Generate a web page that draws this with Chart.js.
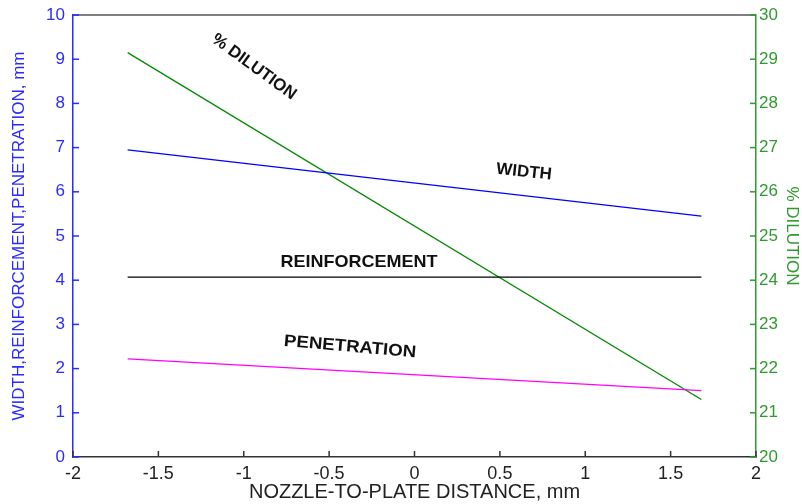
<!DOCTYPE html>
<html>
<head>
<meta charset="utf-8">
<script src="https://cdn.jsdelivr.net/npm/chart.js@4.4.1/dist/chart.umd.min.js"></script>
<style>
  html, body { margin: 0; padding: 0; background: #fff; }
  #wrap { width: 802px; height: 504px; }
</style>
</head>
<body>
<div id="wrap"><canvas id="c"></canvas></div>
<script>
// nozzle-to-plate distance, mm
const distance = [-1.68, 1.68];
const widthMm = [6.95, 5.45];
const reinforcementMm = [4.07, 4.07];
const penetrationMm = [2.22, 1.50];
const dilutionPct = [29.15, 21.3];

const xTicks = [-2, -1.5, -1, -0.5, 0, 0.5, 1, 1.5, 2];

const BLUE = "#2b2bff";
const GREEN = "#2f9a2f";
const FONT = "'Liberation Sans', Arial, sans-serif";

const pts = (ys) => distance.map((x, i) => ({ x: x, y: ys[i] }));

// inward ticks, top border and line labels
const decorations = {
  id: "decorations",
  afterDraw(chart) {
    const { ctx, chartArea: a, scales } = chart;
    ctx.save();
    ctx.lineWidth = 1.5;
    // top border
    ctx.strokeStyle = "#555";
    ctx.beginPath(); ctx.moveTo(a.left, a.top); ctx.lineTo(a.right, a.top); ctx.stroke();
    // x ticks
    ctx.strokeStyle = "#333";
    xTicks.forEach(v => {
      const px = scales.x.getPixelForValue(v);
      ctx.beginPath(); ctx.moveTo(px, a.bottom); ctx.lineTo(px, a.bottom - 6); ctx.stroke();
    });
    // left ticks
    ctx.strokeStyle = BLUE;
    for (let v = 0; v <= 10; v++) {
      const py = scales.y.getPixelForValue(v);
      ctx.beginPath(); ctx.moveTo(a.left, py); ctx.lineTo(a.left + 6, py); ctx.stroke();
    }
    // right ticks
    ctx.strokeStyle = GREEN;
    for (let v = 20; v <= 30; v++) {
      const py = scales.y2.getPixelForValue(v);
      ctx.beginPath(); ctx.moveTo(a.right, py); ctx.lineTo(a.right - 6, py); ctx.stroke();
    }
    // labels
    ctx.fillStyle = "#111";
    ctx.font = "bold 17px " + FONT;
    ctx.textAlign = "center";
    ctx.textBaseline = "middle";
    const label = (t, x, y, deg, sx) => {
      ctx.save();
      ctx.translate(x, y);
      ctx.rotate(deg * Math.PI / 180);
      ctx.scale(sx, 1);
      ctx.fillText(t, 0, 0);
      ctx.restore();
    };
    label("% DILUTION", 254, 67, 36, 1.0);
    label("WIDTH", 524, 172, 6, 1.0);
    label("REINFORCEMENT", 359, 262, 0, 1.06);
    label("PENETRATION", 350, 347, 5, 1.1);
    ctx.restore();
  }
};

new Chart(document.getElementById("c"), {
  type: "line",
  data: {
    datasets: [
      { label: "WIDTH", data: pts(widthMm), borderColor: "#0000ff", yAxisID: "y" },
      { label: "REINFORCEMENT", data: pts(reinforcementMm), borderColor: "#000000", yAxisID: "y" },
      { label: "PENETRATION", data: pts(penetrationMm), borderColor: "#ff00ff", yAxisID: "y" },
      { label: "% DILUTION", data: pts(dilutionPct), borderColor: "#008a00", yAxisID: "y2" }
    ]
  },
  options: {
    responsive: true,
    maintainAspectRatio: false,
    animation: false,
    elements: {
      line: { borderWidth: 1.3, tension: 0 },
      point: { radius: 0 }
    },
    layout: { padding: { top: 0, left: 0, right: 0, bottom: 0 } },
    plugins: {
      legend: { display: false },
      tooltip: { enabled: false }
    },
    scales: {
      x: {
        type: "linear",
        min: -2, max: 2,
        afterBuildTicks: (s) => { s.ticks = xTicks.map(v => ({ value: v })); },
        afterFit: (s) => { s.height = 47; },
        grid: { display: false, drawTicks: false },
        border: { display: true, color: "#333", width: 1.5 },
        ticks: {
          color: "#222", padding: 6, font: { size: 18, family: FONT },
          callback: (v) => String(v)
        },
        title: {
          display: true, text: "NOZZLE-TO-PLATE DISTANCE, mm", color: "#222", padding: { top: 0, bottom: 0 },
          font: { size: 20, family: FONT }
        }
      },
      y: {
        position: "left",
        min: 0, max: 10,
        afterFit: (s) => { s.width = 73; s.paddingTop = 15; },
        grid: { display: false, drawTicks: false },
        border: { display: true, color: BLUE, width: 1.5 },
        ticks: { color: BLUE, stepSize: 1, padding: 8, font: { size: 17, family: FONT } },
        title: {
          display: true, text: "WIDTH,REINFORCEMENT,PENETRATION, mm", color: BLUE, padding: { top: 9, bottom: 0 },
          font: { size: 17, family: FONT }
        }
      },
      y2: {
        position: "right",
        min: 20, max: 30,
        afterFit: (s) => { s.width = 46; s.paddingTop = 15; },
        grid: { display: false, drawTicks: false },
        border: { display: true, color: GREEN, width: 1.5 },
        ticks: { color: GREEN, stepSize: 1, padding: 3, font: { size: 17, family: FONT } },
        title: {
          display: true, text: "% DILUTION", color: GREEN, padding: { top: 0, bottom: 0 },
          font: { size: 17, family: FONT }
        }
      }
    }
  },
  plugins: [decorations]
});
</script>
</body>
</html>
